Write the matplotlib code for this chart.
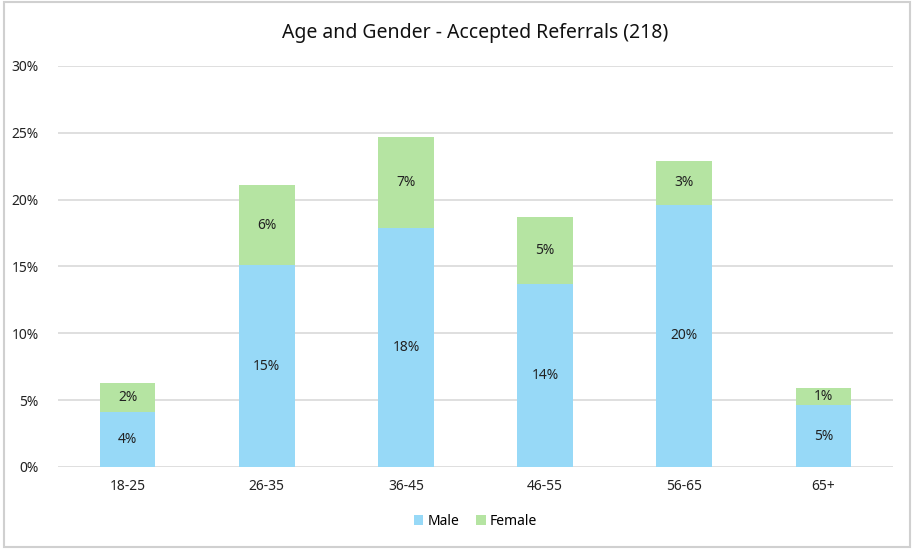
import matplotlib.pyplot as plt
import numpy as np

age_groups = ['18-25', '26-35', '36-45', '46-55', '56-65', '65+']
male_pct = [4.1, 15.1, 17.9, 13.7, 19.6, 4.6]
female_pct = [2.2, 6.0, 6.8, 5.0, 3.3, 1.3]

male_color = '#97D9F7'
female_color = '#B5E4A2'

plt.rcParams['font.family'] = ['Noto Sans', 'DejaVu Sans']

fig = plt.figure(figsize=(9.14, 5.49), dpi=100)
ax = fig.add_axes([0.0635, 0.1494, 0.9135, 0.7304])

x = np.arange(len(age_groups))
width = 0.4
male_bars = ax.bar(x, male_pct, width, color=male_color, label='Male', zorder=3)
female_bars = ax.bar(x, female_pct, width, bottom=male_pct, color=female_color,
                     label='Female', zorder=3)

for i in range(len(age_groups)):
    ax.text(x[i], male_pct[i] / 2, f'{male_pct[i]:.0f}%', ha='center', va='center',
            fontsize=10, color='#222222', zorder=4)
    ax.text(x[i], male_pct[i] + female_pct[i] / 2, f'{female_pct[i]:.0f}%',
            ha='center', va='center', fontsize=10, color='#222222', zorder=4)

ax.set_xlim(-0.5, len(age_groups) - 0.5)
ax.set_ylim(0, 30)
ax.set_yticks(range(0, 31, 5))
ax.set_yticklabels([f'{v}%' for v in range(0, 31, 5)])
ax.set_xticks(x)
ax.set_xticklabels(age_groups)
ax.tick_params(axis='both', length=0, labelsize=10, colors='#222222')
ax.tick_params(axis='x', pad=9)
ax.tick_params(axis='y', pad=14)
ax.yaxis.grid(True, color='#D9D9D9', linewidth=1.2, zorder=0)
for s in ax.spines.values():
    s.set_visible(False)

ax.set_title('Age and Gender - Accepted Referrals (218)', fontsize=14, color='#111111', pad=20)

ax.legend(loc='upper center', bbox_to_anchor=(0.5, -0.085), ncol=2, frameon=False,
          fontsize=10, handlelength=0.7, handleheight=0.7, handletextpad=0.3, columnspacing=1.2)

fig.patches.append(plt.Rectangle((0.004, 0.004), 0.992, 0.992, transform=fig.transFigure,
                                 fill=False, edgecolor='#D0D0D0', linewidth=1.5))

plt.savefig('out.png', dpi=100)
